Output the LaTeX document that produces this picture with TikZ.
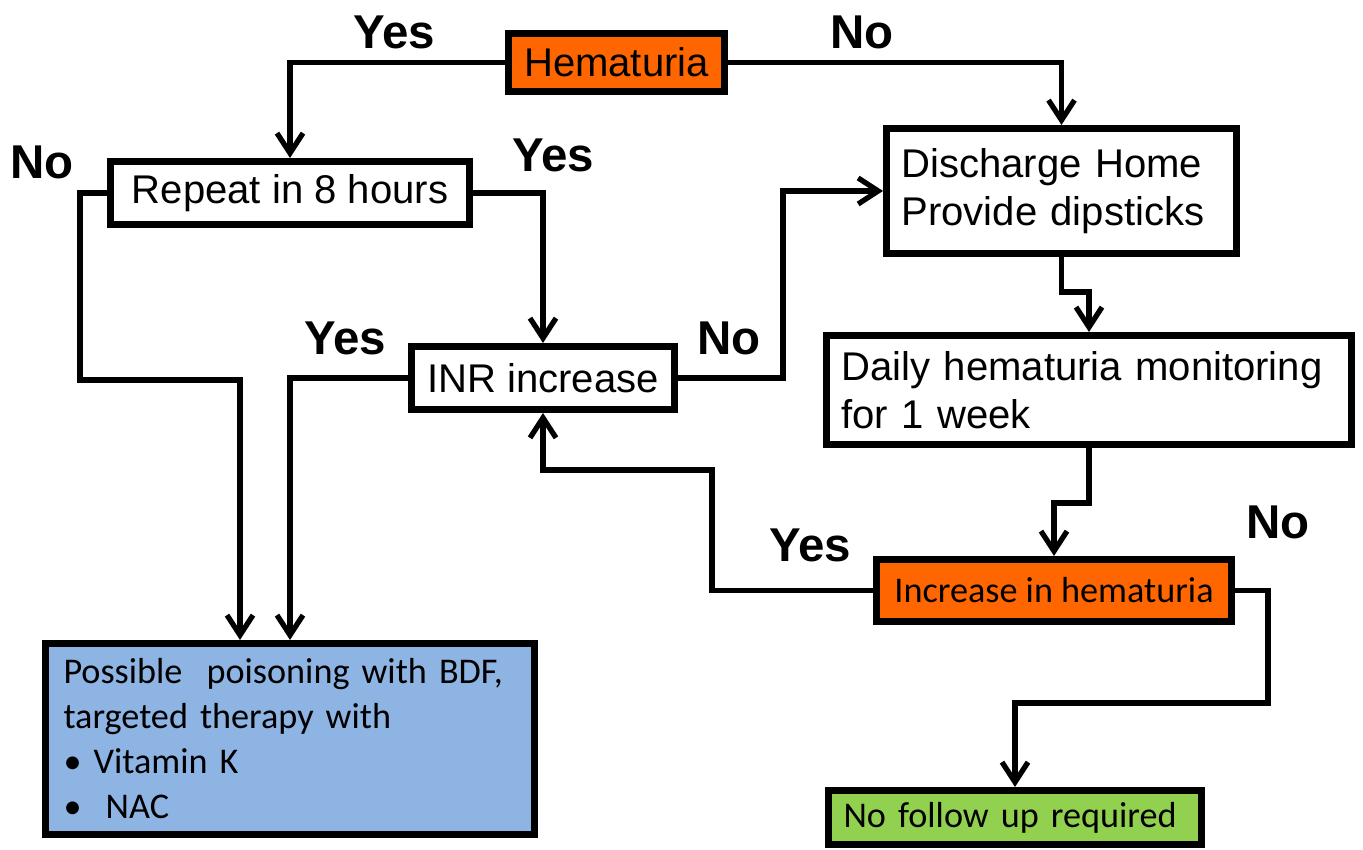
\documentclass[tikz,border=0pt]{standalone}
\usepackage{fontspec}
\setmainfont{Liberation Sans}
\newfontfamily\calibri{Carlito}
\usetikzlibrary{arrows.meta}
\definecolor{hemorange}{HTML}{FF6600}
\definecolor{bdfblue}{HTML}{8EB4E3}
\definecolor{okgreen}{HTML}{92D050}

\begin{document}
\begin{tikzpicture}[
    box/.style   ={draw=black, line width=2pt, inner xsep=1.5mm, inner ysep=0pt, align=center,
                   font=\fontsize{11.4}{13.6}\selectfont},
    note/.style  ={box, font=\calibri\fontsize{10.3}{12.8}\selectfont},
    answer/.style={font=\bfseries\fontsize{13.5}{15}\selectfont, inner sep=0pt},
    link/.style  ={line width=1.5pt, -{Straight Barb[length=2mm,width=2.6mm]}},
  ]
  \useasboundingbox (0,0) rectangle (13.63,8.5);

  % ---------------- decision boxes -----------------------------------------
  \node[box, fill=hemorange, minimum width=2.16cm, minimum height=0.58cm] (hem) at (6.165,7.875) {Hematuria};
  \node[box, minimum width=3.59cm, minimum height=0.63cm] (rep) at (2.90,6.57) {Repeat in 8 hours};
  \node[box, minimum width=2.63cm, minimum height=0.63cm] (inr) at (5.43,4.72) {INR increase};
  \node[box, text width=3.20cm, align=left, minimum height=1.25cm] (dis) at (10.615,6.59)
       {Discharge Home\\Provide dipsticks};
  \node[box, text width=4.95cm, align=left, minimum height=1.09cm] (daily) at (10.89,4.60)
       {Daily hematuria monitoring\\for 1 week};
  \node[note, fill=hemorange, minimum width=3.55cm, minimum height=0.62cm] (inc) at (10.54,2.595)
       {Increase in hematuria};

  % ---------------- outcomes -----------------------------------------------
  \node[note, fill=bdfblue, inner xsep=1.8mm, text width=4.53cm, align=left, minimum height=1.91cm] (pos) at (2.90,1.11)
       {Possible\ \ poisoning with BDF,\\targeted therapy with\\\textbullet\ Vitamin K\\\textbullet\ \ NAC};
  \node[note, fill=okgreen, text width=3.43cm, align=left, minimum height=0.54cm] (nof) at (10.15,0.325)
       {No follow up required};

  % ---------------- yes / no answers ---------------------------------------
  \node[answer] (yesHem) at (3.94,8.18)  {Yes};
  \node[answer] (noHem)  at (8.62,8.18)  {No};
  \node[answer] (noRep)  at (0.42,6.88)  {No};
  \node[answer] (yesRep) at (5.53,6.95)  {Yes};
  \node[answer] (yesInr) at (3.45,5.12)  {Yes};
  \node[answer] (noInr)  at (7.29,5.12)  {No};
  \node[answer] (yesInc) at (8.10,3.05)  {Yes};
  \node[answer] (noInc)  at (12.78,3.28) {No};

  % ---------------- connectors ---------------------------------------------
  \draw[link] (hem.west) -| (rep.north);
  \draw[link] (hem.east) -| (dis.north);
  \draw[link] (rep.west) -| (0.80,4.70) -| ([xshift=-5mm]pos.north);
  \draw[link] (rep.east) -| (inr.north);
  \draw[link] (inr.west) -| (pos.north);
  \draw[link] (inr.east) -| ([xshift=-10mm]dis.west) -- (dis.west);
  \draw[link] (dis.south) -- ++(0,-0.35) -| (daily.north);
  \draw[link] (daily.south) -- ++(0,-0.55) -| (inc.north);
  \draw[link] (inc.west) -| (7.12,3.80) -| (inr.south);
  \draw[link] (inc.east) -| (12.68,1.47) -| (nof.north);

\end{tikzpicture}
\end{document}
